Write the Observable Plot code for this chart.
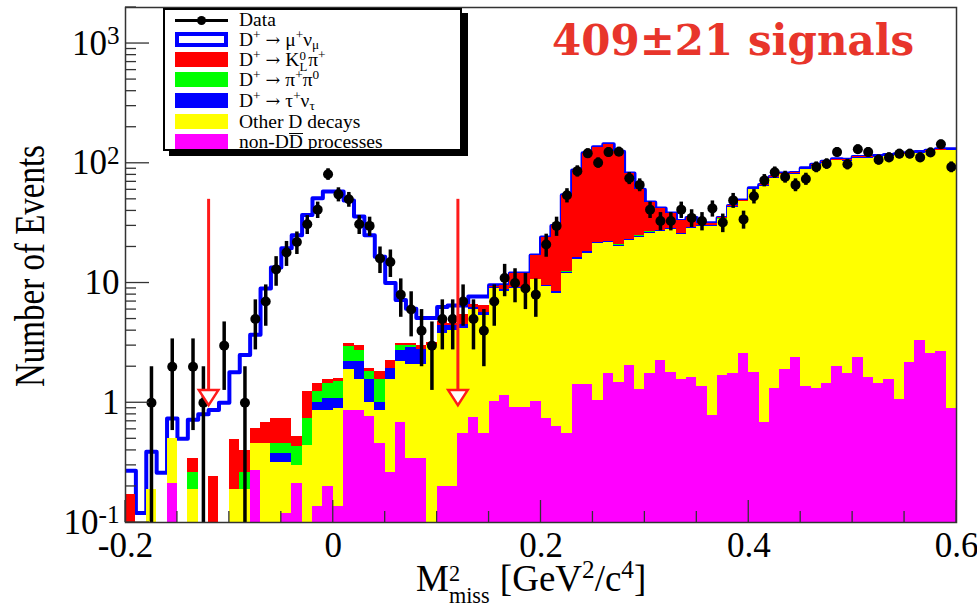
<!DOCTYPE html>
<html><head><meta charset="utf-8">
<script src="https://cdn.jsdelivr.net/npm/d3@7"></script>
<script src="https://cdn.jsdelivr.net/npm/@observablehq/plot@0.6"></script>
<style>
body{margin:0;background:#fff;}
#wrap{position:relative;width:977px;height:613px;font-family:"Liberation Serif","Times New Roman",serif;color:#000;overflow:hidden;}
#wrap svg{position:absolute;left:0;top:0;}
.abs{position:absolute;white-space:nowrap;line-height:1;}
#legend{position:absolute;left:163px;top:8px;width:295px;height:139px;border:2px solid #000;background:#fff;box-shadow:6px 5px 0 #000;font-size:19.5px;}
#legend .row{position:absolute;left:0;height:20px;width:290px;}
#legend .sw{position:absolute;left:10px;top:2px;width:53px;height:15px;box-sizing:border-box;}
#legend .lbl{position:absolute;left:74px;top:0;line-height:20px;white-space:nowrap;}
sup,sub{font-size:0.68em;line-height:0;}
#legend sub{vertical-align:-0.2em;}
.arr{font-family:"DejaVu Serif",serif;font-size:0.9em;margin:0 5px;}
.ss{display:inline-block;vertical-align:-0.4em;line-height:0.85;font-size:0.66em;text-align:left;margin-right:1px;}
.ss span{display:block;}
.ovl{display:inline-block;border-top:1.5px solid #000;line-height:0.72;padding-top:1px;}
</style></head><body><div id="wrap"></div>
<script>
// ---- data (bin width 0.01 from -0.2 to 0.6) ----
const binStart = -0.2, binWidth = 0.01;
const dataCounts = [0,0,1,0,2,0,2,1,0,3,
 0,1,5,7,13,18,22,31,41,81,
 55,50,31,30,16,15,8,6,4,3,
 5,5,7,5,4,7,11,10,9,8,
 21,30,54,86,121,101,124,125,75,66,
 41,33,33,41,35,33,42,32,49,34,
 53,72,84,77,66,74,93,99,124,98,
 131,124,107,112,120,120,112,123,144,93];
// cumulative stack tops
const totalLevel = [0.27,0.12,0.39,0.26,0.74,0.5,0.72,0.8,0.87,1.0,
 1.8,2.5,3.7,9,13.5,19.5,25,37,51,58,
 58,49,36,25,16.6,10,7.2,6.1,5.1,5.1,
 6.3,6.5,6.5,7.7,7.7,9.6,9.6,12,12,17,
 24,30,54,87,121,136,144,125,82,60,
 47,42,38,33,35,31.5,31.5,35,44,49,
 62,66,77,82,83,91,97,103,108,107,
 113,113,115,117,119,121,124,127,131,131];
const kpiLevel = [0.17,0,0.19,0,0.5,0,0.34,0,0.24,0,
 0.49,0.4,0.61,0.69,0.74,0.74,0.52,1.24,1.45,1.55,
 1.6,3.1,3.0,1.94,1.82,2.27,3.1,3.1,3.0,3.2,
 4.8,4.6,5.5,6.6,6.5,9.3,9.5,12,12,17,
 24,30,54,87,121,136,144,125,82,60,
 47,42,38,33,35,31.5,31.5,35,44,49,
 62,66,77,82,83,91,97,103,108,107,
 113,113,115,117,119,121,124,127,131,131];
const pipiLevel = [0,0,0.19,0,0.5,0,0.26,0,0,0,
 0.19,0.26,0.46,0.46,0.46,0.46,0.43,0.74,1.24,1.45,
 1.5,2.94,2.75,1.82,1.55,1.94,3.0,3.0,2.8,3.0,
 4.4,4.4,4.5,6.3,5.7,9.2,8.8,9.2,9.2,10.8,
 9.6,8.5,12.4,16.3,18.4,21.9,22.4,20.8,23.3,24.8,
 26.7,27.5,28.8,25.9,29.3,30.5,30.5,34.3,43.3,48,
 61,65,76,81,82,90,95.5,101.5,106.5,105.5,
 111.5,111.5,113.5,115.5,117.5,119.5,122.5,125,129,129.5];
const taunuLevel = [0,0,0.19,0,0.5,0,0.19,0,0,0,
 0.19,0.19,0.46,0.46,0.38,0.38,0.3,0.44,1.0,1.09,
 1.09,2.2,2.2,1.55,1.0,1.94,2.75,2.9,2.8,3.0,
 4.4,4.4,4.5,6.3,5.7,9.2,8.8,9.2,9.2,10.8,
 9.6,8.5,12.3,16.2,18.3,21.8,22.3,20.7,23.2,24.7,
 26.6,27.4,28.7,25.8,29.2,30.4,30.4,34.2,43.2,48,
 61,65,76,81,82,90,95.5,101.5,106.5,105.5,
 111.5,111.5,113.5,115.5,117.5,119.5,122.5,125,129,129.5];
const otherLevel = [0,0,0.19,0,0.5,0,0.19,0,0,0,
 0.19,0.19,0.46,0.46,0.32,0.32,0.3,0.44,0.87,0.87,
 0.9,1.88,1.55,1.0,0.87,1.55,2.2,2.1,2.1,3.0,
 3.8,4.0,4.2,6.0,5.4,9.0,8.5,9.0,9.0,10.6,
 9.3,8.2,11.9,15.6,17.7,21.2,21.7,20.1,22.6,24.1,
 26,26.8,28.1,25.2,28.6,29.9,29.9,33.6,42.5,47.5,
 60,64,75,80,81,89,94.5,100,105,104,
 110,110,112,114,116,118,121,123,127,128];
const nonDDLevel = [0,0,0,0,0.21,0,0,0,0,0,
 0,0,0.27,0,0,0.12,0.21,0,0.135,0.2,
 0.135,0.87,0.87,0.77,0.46,0.26,0.69,0.34,0.34,0,
 0.2,0.2,0.55,0.76,0.55,1.03,1.16,0.92,0.92,1.02,
 0.74,0.63,0.55,1.41,1.43,1.05,1.74,1.47,2.04,1.28,
 1.74,2.24,1.79,1.55,1.62,1.36,0.79,1.70,1.77,2.6,
 1.79,0.69,1.32,1.90,2.38,1.38,1.32,1.45,2.0,1.74,
 2.38,1.62,1.45,1.57,1.07,2.18,3.34,2.59,2.70,0.90];
const cutPositions = [-0.12, 0.12];
const xTickValues = [-0.2, 0, 0.2, 0.4, 0.6];
const xTickLabels = ["-0.2", "0", "0.2", "0.4", "0.6"];
const yTickValues = [0.1, 1, 10, 100, 1000];
const yTickLabels = ["10^-1", "1", "10", "10^2", "10^3"];
const ARR = "<span class='arr'>→</span>";
const legendLabels = [
  "Data",
  "D<sup>+</sup>" + ARR + "μ<sup>+</sup>ν<sub>μ</sub>",
  "D<sup>+</sup>" + ARR + "K<span class='ss'><span>0</span><span>L</span></span>π<sup>+</sup>",
  "D<sup>+</sup>" + ARR + "π<sup>+</sup>π<sup>0</sup>",
  "D<sup>+</sup>" + ARR + "τ<sup>+</sup>ν<sub>τ</sub>",
  "Other D decays",
  "non-D<span class='ovl'>D</span> processes"
];
const stackColors = ["#ff0000", "#00ff00", "#0000ff", "#ffff00", "#ff00ff"];
const signalColor = "#0000ff";

// ---- build ----
const bins = dataCounts.map((n, i) => ({
  i, n,
  x1: binStart + i * binWidth,
  x2: binStart + (i + 1) * binWidth,
  xc: binStart + (i + 0.5) * binWidth
}));
const stepPts = bins.map(b => ({x: b.x1, y: totalLevel[b.i]}));
stepPts.push({x: bins[bins.length - 1].x2, y: totalLevel[totalLevel.length - 1]});
const stackLevels = [kpiLevel, pipiLevel, taunuLevel, otherLevel, nonDDLevel];
const floorV = 0.01;
const points = bins.filter(b => b.n > 0);

const triDown = {draw(ctx, size) {
  const r = Math.sqrt(size / Math.PI);
  ctx.moveTo(-1.3 * r, -0.9 * r); ctx.lineTo(1.3 * r, -0.9 * r); ctx.lineTo(0, 1.1 * r); ctx.closePath();
}};

const chart = Plot.plot({
  width: 977, height: 613,
  marginLeft: 125, marginRight: 21, marginTop: 7, marginBottom: 91,
  style: {fontFamily: "'Liberation Serif', 'Times New Roman', serif", fontSize: "35px", background: "white", color: "#000"},
  x: {domain: [-0.2, 0.6], ticks: xTickValues, tickFormat: d => xTickLabels[xTickValues.indexOf(d)], tickSize: 0, tickPadding: 10, label: null},
  y: {type: "log", domain: [0.1, 2000], ticks: yTickValues, tickFormat: d => yTickLabels[yTickValues.indexOf(d)], tickSize: 0, tickPadding: 6, label: null},
  marks: [
    Plot.lineY(stepPts, {x: "x", y: "y", curve: "step-after", stroke: signalColor, strokeWidth: 4, clip: true}),
    ...stackLevels.map((lev, k) => Plot.rectY(bins.filter(b => lev[b.i] > 0), {
      x1: "x1", x2: "x2", y1: floorV, y2: b => lev[b.i], fill: stackColors[k], clip: true, shapeRendering: "crispEdges"
    })),
    Plot.ruleX(points, {x: "xc", y1: d => Math.max(d.n - Math.sqrt(d.n), floorV), y2: d => d.n + Math.sqrt(d.n), stroke: "black", strokeWidth: 3.5, clip: true}),
    Plot.dot(points, {x: "xc", y: "n", r: 5, fill: "black"}),
    Plot.ruleX(cutPositions, {x: d => d, y1: 1.28, y2: 50, stroke: "#ff1a1a", strokeWidth: 3}),
    Plot.dot(cutPositions, {x: d => d, y: 1.12, symbol: triDown, r: 7.5, fill: "white", stroke: "#ff1a1a", strokeWidth: 2.5}),
    Plot.frame({stroke: "#333", strokeWidth: 1.5})
  ]
});

const wrap = document.getElementById("wrap");
wrap.appendChild(chart);
const svg = d3.select(chart.tagName.toLowerCase() === "svg" ? chart : chart.querySelector("svg"));
// superscripts in y tick labels
svg.selectAll('g[aria-label="y-axis tick label"] text').each(function() {
  const t = this.textContent;
  if (t.includes("^")) {
    const [b, e] = t.split("^");
    this.textContent = b;
    d3.select(this).append("tspan").attr("dy", "-0.42em").attr("font-size", "0.72em").text(e);
  }
});
// inward ticks (ROOT style)
const sx = chart.scale("x"), sy = chart.scale("y");
const gT = svg.append("g").attr("stroke", "#333").attr("stroke-width", 1.3);
const yBottom = sy.apply(0.1), xLeft = sx.apply(-0.2);
const yMinor = [];
for (let d = -1; d <= 3; d++) for (let k = 1; k <= 9; k++) { const v = k * Math.pow(10, d); if (v >= 0.1 && v <= 2000) yMinor.push([v, k === 1]); }
yMinor.forEach(([v, major]) => gT.append("line").attr("x1", xLeft).attr("x2", xLeft + (major ? 24 : 11)).attr("y1", sy.apply(v)).attr("y2", sy.apply(v)));
d3.range(-0.2, 0.6001, 0.05).forEach((v, j) => {
  const major = j % 4 === 0;
  gT.append("line").attr("x1", sx.apply(v)).attr("x2", sx.apply(v)).attr("y1", yBottom).attr("y2", yBottom - (major ? 22 : 11));
});

// text overlays
function addDiv(html, style) { const d = document.createElement("div"); d.className = "abs"; d.innerHTML = html; Object.assign(d.style, style); wrap.appendChild(d); return d; }
addDiv("409±21 signals", {left: "552px", top: "20px", fontSize: "42px", fontWeight: "bold", color: "#e8352b", fontFamily: "'DejaVu Serif', serif"});
addDiv("Number of Events", {left: "31px", top: "266px", fontSize: "33px", transform: "translate(-50%,-50%) rotate(-90deg) scaleY(1.25)"});
addDiv("M<span class='ss' style='font-size:0.6em;vertical-align:-0.55em;line-height:1'><span>2</span><span>miss</span></span> [GeV<sup>2</sup>/c<sup>4</sup>]", {left: "416px", top: "560px", fontSize: "37px"});

// legend
const leg = document.createElement("div"); leg.id = "legend"; wrap.appendChild(leg);
const rowCenters = [10, 30, 50, 70, 91, 112, 132];
legendLabels.forEach((lab, k) => {
  const row = document.createElement("div"); row.className = "row"; row.style.top = (rowCenters[k] - 10) + "px";
  let sw;
  if (k === 0) {
    sw = `<div style="position:absolute;left:10px;top:8.5px;width:53px;height:3px;background:#000"></div><div style="position:absolute;left:32px;top:5.5px;width:9px;height:9px;border-radius:50%;background:#000"></div>`;
  } else if (k === 1) {
    sw = `<div class="sw" style="border:4px solid ${signalColor};background:#fff"></div>`;
  } else {
    sw = `<div class="sw" style="background:${stackColors[k - 2]}"></div>`;
  }
  row.innerHTML = sw + `<span class="lbl">${lab}</span>`;
  leg.appendChild(row);
});
</script></body></html>
